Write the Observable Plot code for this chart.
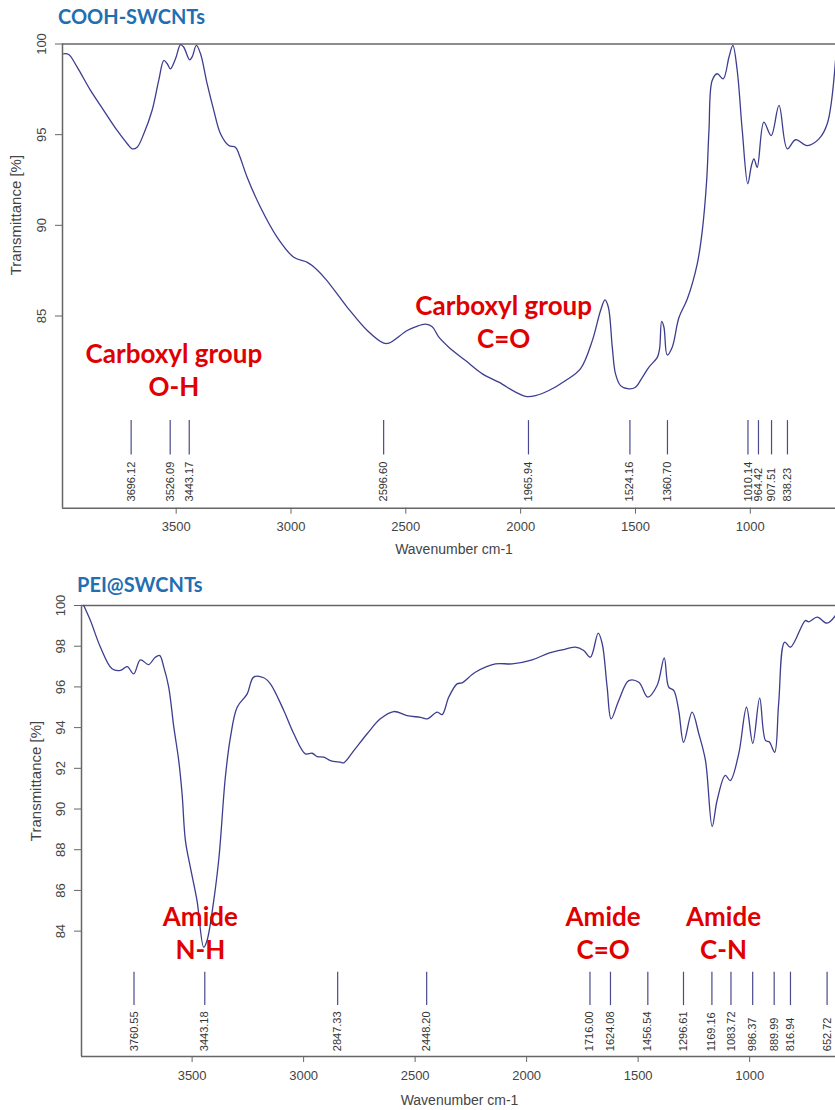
<!DOCTYPE html>
<html>
<head>
<meta charset="utf-8">
<script src="https://cdn.jsdelivr.net/npm/d3@7"></script>
<script src="https://cdn.jsdelivr.net/npm/@observablehq/plot@0.6"></script>
<style>
  html, body { margin: 0; padding: 0; background: #fff; width: 835px; overflow: hidden; }
  .title { height: 30px; box-sizing: border-box; font-family: Lato, "Open Sans", sans-serif; font-weight: bold; font-size: 20px; color: #1f6fb2; line-height: 20px; }
  #t1 { padding-left: 58px; padding-top: 6px; }
  #t2 { padding-left: 77px; padding-top: 14px; }
  svg { display: block; }
</style>
</head>
<body>
<div class="title" id="t1">COOH-SWCNTs</div>
<div id="c1"></div>
<div class="title" id="t2">PEI@SWCNTs</div>
<div id="c2"></div>
<script>
// ---- COOH-SWCNTs spectrum ----
const coohWavenumber = [3990,3968,3931,3873,3815,3757,3713,3692,3670,3641,3605,3576,3554,3539,3525,3503,3481,3467,3441,3430,3412,3394,3365,3336,3307,3271,3242,3227,3191,3133,3060,2988,2929,2908,2850,2755,2668,2596,2574,2494,2458,2414,2385,2356,2313,2240,2167,2095,2022,1979,1935,1877,1804,1739,1688,1652,1633,1618,1601,1587,1565,1529,1500,1470,1442,1405,1395,1386,1376,1362,1340,1311,1274,1231,1209,1190,1180,1166,1144,1118,1093,1076,1057,1035,1011,995,984,970,941,909,875,839,803,752,701,665,629];
const coohTransmittance = [99.46,99.42,98.72,97.44,96.33,95.23,94.5,94.22,94.31,95.05,96.33,97.99,99.09,98.91,98.63,99.18,99.97,99.82,99.13,99.3,99.92,99.46,97.8,96.33,95.05,94.4,94.31,93.94,92.65,91.0,89.34,88.24,87.96,87.78,87.05,85.48,84.2,83.5,83.5,84.2,84.4,84.55,84.4,83.83,83.28,82.54,81.81,81.35,80.8,80.57,80.61,80.89,81.44,82.1,83.64,85.3,85.89,85.48,83.28,81.81,81.16,80.98,81.07,81.62,82.17,82.72,83.2,84.7,84.38,82.85,83.28,84.9,85.95,87.88,89.71,92.47,95.23,97.99,98.36,98.08,99.27,99.92,98.54,95.23,92.29,93.3,93.67,93.2,95.69,94.95,96.61,94.22,94.72,94.4,94.77,95.6,99.09];
const coohPeaks = [3696.12,3526.09,3443.17,2596.60,1965.94,1524.16,1360.70,1010.14,964.42,907.51,838.23];
const coohNotes = ["Carboxyl group\nO-H","Carboxyl group\nC=O"];
const coohNoteX = [3510, 2074];
const coohNoteY = [82.1, 84.75];

// ---- PEI@SWCNTs spectrum ----
const peiWavenumber = [3986,3956,3911,3859,3822,3791,3762,3732,3695,3665,3645,3627,3605,3582,3560,3545,3530,3508,3478,3448,3433,3403,3381,3373,3351,3328,3298,3253,3224,3179,3149,3089,3044,2992,2962,2939,2910,2880,2835,2820,2775,2715,2656,2596,2536,2476,2446,2401,2379,2349,2312,2290,2230,2140,2065,1975,1901,1841,1781,1744,1714,1679,1661,1639,1621,1587,1542,1497,1457,1415,1383,1363,1340,1318,1296,1258,1228,1198,1168,1146,1109,1087,1049,1014,986,955,929,912,888,870,843,817,750,735,697,653,615];
const peiTransmittance = [100,99.26,97.95,96.89,96.81,97.0,96.64,97.33,97.1,97.46,97.54,96.97,95.99,94.02,92.38,90.75,88.45,87.14,85.5,83.21,83.54,85.5,87.47,88.45,91.56,93.53,95.0,95.66,96.48,96.45,96.15,94.84,93.7,92.71,92.74,92.58,92.55,92.38,92.3,92.27,92.87,93.7,94.43,94.79,94.59,94.5,94.43,94.76,94.64,95.5,96.15,96.2,96.72,97.13,97.13,97.33,97.66,97.82,97.95,97.79,97.46,98.64,98.12,95.99,94.43,95.33,96.31,96.23,95.5,96.07,97.43,95.99,95.82,94.84,93.28,94.76,93.7,92.38,89.14,90.42,91.65,91.4,92.71,95.0,93.23,95.45,93.37,93.3,92.79,95.17,98.2,97.95,99.26,99.2,99.43,99.13,99.51];
const peiPeaks = [3760.55,3443.18,2847.33,2448.20,1716.00,1624.08,1456.54,1296.61,1169.16,1083.72,986.37,889.99,816.94,652.72];
const peiNotes = ["Amide\nN-H","Amide\nC=O","Amide\nC-N"];
const peiNoteX = [3463, 1657, 1117];
const peiNoteY = [83.96, 83.96, 83.96];

const xTicks = [3500,3000,2500,2000,1500,1000];
const coohYTicks = [85,90,95,100];
const peiYTicks = [84,86,88,90,92,94,96,98,100];

function spectrum({wn, tr, peaks, notes, noteX, noteY, xDomain, yDomain, yTicks, height, marginTop, marginBottom, marginLeft, peakTop, peakBottom, peakLabelY, yLabelDx, yLabelDy, xLabelDx, xLabelDy}) {
  const series = wn.map((w, i) => ({w, t: tr[i]}));
  const noteData = notes.map((n, i) => ({n, x: noteX[i], y: noteY[i]}));
  const axisColor = "#666";
  return Plot.plot({
    width: 835, height, marginTop, marginBottom, marginLeft, marginRight: 0,
    style: {fontFamily: "'Liberation Sans', Arial, sans-serif", fontSize: "13px", color: "#444", background: "#fff"},
    x: {domain: xDomain},
    y: {domain: yDomain},
    marks: [
      Plot.ruleY([yDomain[0], yDomain[1]], {stroke: axisColor, strokeWidth: 1.5}),
      Plot.ruleX([xDomain[0]], {stroke: axisColor, strokeWidth: 1.5}),
      Plot.axisX(xTicks, {tickSize: 6, tickPadding: 8, stroke: axisColor, label: null, fill: "#444", fontSize: 13, tickFormat: d => String(d)}),
      Plot.axisY(yTicks, {tickSize: 7, tickRotate: -90, tickPadding: 10, stroke: axisColor, label: null, fill: "#444", fontSize: 13, tickFormat: d => String(d)}),
      Plot.text(["Transmittance [%]"], {frameAnchor: "left", rotate: -90, dx: yLabelDx, dy: yLabelDy, fontSize: 15, fill: "#444", lineAnchor: "middle", textAnchor: "middle"}),
      Plot.text(["Wavenumber cm-1"], {frameAnchor: "bottom", dx: xLabelDx, dy: xLabelDy, fontSize: 14, fill: "#444", lineAnchor: "middle", textAnchor: "middle"}),
      Plot.ruleX(peaks, {x: d => d, y1: peakBottom, y2: peakTop, stroke: "#4a4a8e", strokeWidth: 1.2}),
      Plot.text(peaks, {x: d => d, y: peakLabelY, text: d => d.toFixed(2), rotate: -90, textAnchor: "start", lineAnchor: "middle", fontSize: 11, fill: "#333"}),
      Plot.line(series, {x: "w", y: "t", stroke: "#3d3d8f", strokeWidth: 1.3, curve: "catmull-rom"}),
      Plot.text(noteData, {x: "x", y: "y", text: "n", fill: "#e00000", fontSize: 26, fontWeight: "bold", fontFamily: "Lato, 'Open Sans', sans-serif", lineHeight: 1.27, lineAnchor: "middle", textAnchor: "middle"})
    ]
  });
}

document.getElementById("c1").append(spectrum({
  wn: coohWavenumber, tr: coohTransmittance, peaks: coohPeaks,
  notes: coohNotes, noteX: coohNoteX, noteY: coohNoteY,
  xDomain: [3995, 629], yDomain: [74.4, 100], yTicks: coohYTicks,
  height: 530, marginTop: 13.5, marginBottom: 52.3, marginLeft: 62,
  peakTop: 79.23, peakBottom: 77.34, peakLabelY: 74.77,
  yLabelDx: -46, yLabelDy: -61, xLabelDx: 5, xLabelDy: 41
}));
document.getElementById("c2").append(spectrum({
  wn: peiWavenumber, tr: peiTransmittance, peaks: peiPeaks,
  notes: peiNotes, noteX: peiNoteX, noteY: peiNoteY,
  xDomain: [3996, 615], yDomain: [77.84, 100], yTicks: peiYTicks,
  height: 520, marginTop: 15, marginBottom: 54, marginLeft: 81,
  peakTop: 81.98, peakBottom: 80.34, peakLabelY: 78.1,
  yLabelDx: -45, yLabelDy: -50, xLabelDx: 1, xLabelDy: 44
}));
</script>
</body>
</html>
